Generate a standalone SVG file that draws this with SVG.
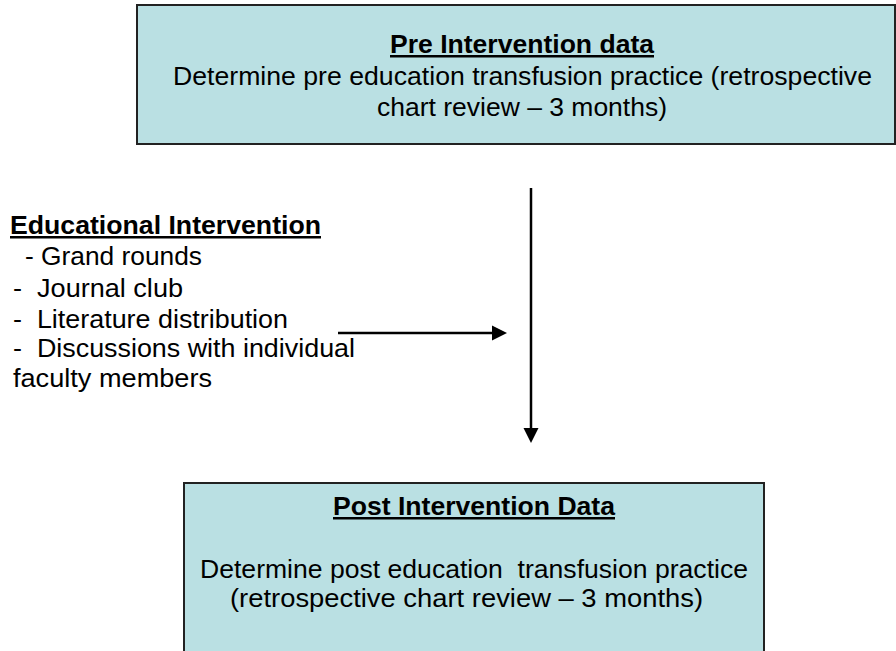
<svg xmlns="http://www.w3.org/2000/svg" width="896" height="651" viewBox="0 0 896 651">
<style>
text{font-family:"Liberation Sans",Arial,sans-serif;font-size:25px;fill:#000}
.b{font-weight:bold;text-decoration:underline}
.box{fill:#BAE0E3;stroke:#222;stroke-width:2}
.c{stroke:#000;stroke-width:2.5;fill:none}
</style>
<defs>
<marker id="ah" viewBox="0 0 10 10" refX="0" refY="5" markerWidth="6" markerHeight="6.4" orient="auto" markerUnits="strokeWidth">
<path d="M0,0 L10,5 L0,10 z" fill="#000"/>
</marker>
</defs>
<rect width="896" height="651" fill="#fff"/>
<g id="pre">
<rect class="box" x="137" y="5" width="758" height="139"/>
<text x="390" y="53" class="b" textLength="264" lengthAdjust="spacingAndGlyphs">Pre Intervention data</text>
<text x="173" y="85" textLength="699" lengthAdjust="spacingAndGlyphs">Determine pre education transfusion practice (retrospective</text>
<text x="377" y="116" textLength="290" lengthAdjust="spacingAndGlyphs">chart review – 3 months)</text>
</g>
<g id="edu">
<text x="10" y="234" class="b" textLength="311" lengthAdjust="spacingAndGlyphs">Educational Intervention</text>
<text x="25" y="265" textLength="177" lengthAdjust="spacingAndGlyphs">- Grand rounds</text>
<text x="13" y="297" xml:space="preserve" textLength="170" lengthAdjust="spacingAndGlyphs">-  Journal club</text>
<text x="13" y="328" xml:space="preserve" textLength="275" lengthAdjust="spacingAndGlyphs">-  Literature distribution</text>
<text x="13" y="357" xml:space="preserve" textLength="342" lengthAdjust="spacingAndGlyphs">-  Discussions with individual</text>
<text x="13" y="387" textLength="199" lengthAdjust="spacingAndGlyphs">faculty members</text>
</g>
<g id="post">
<rect class="box" x="184" y="483" width="580" height="180"/>
<text x="333" y="515" class="b" textLength="282" lengthAdjust="spacingAndGlyphs">Post Intervention Data</text>
<text x="200" y="578" xml:space="preserve" textLength="548" lengthAdjust="spacingAndGlyphs">Determine post education  transfusion practice</text>
<text x="230" y="607" textLength="473" lengthAdjust="spacingAndGlyphs">(retrospective chart review – 3 months)</text>
</g>
<g id="connectors">
<line class="c" x1="531" y1="188" x2="531" y2="428" marker-end="url(#ah)"/>
<line class="c" x1="338" y1="333" x2="492" y2="333" marker-end="url(#ah)"/>
</g>
</svg>
